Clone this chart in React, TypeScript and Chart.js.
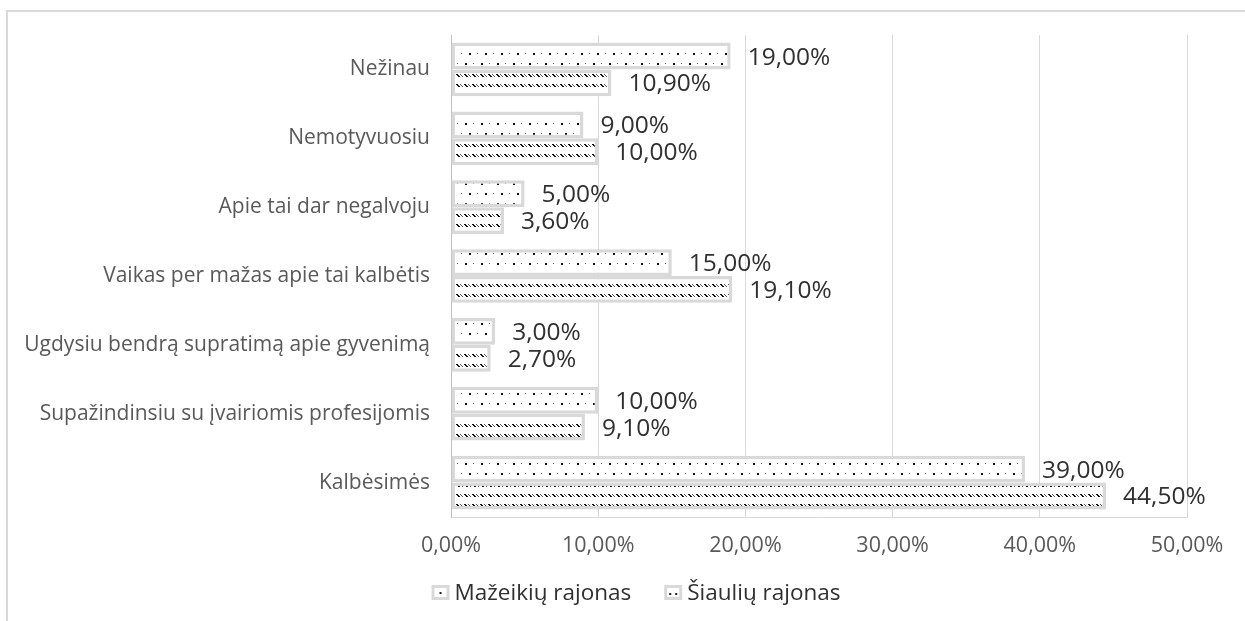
import React, { useEffect, useRef } from "react";
import { Chart, registerables } from "chart.js";
Chart.register(...registerables);

const categories = [
  "Nežinau",
  "Nemotyvuosiu",
  "Apie tai dar negalvoju",
  "Vaikas per mažas apie tai kalbėtis",
  "Ugdysiu bendrą supratimą apie gyvenimą",
  "Supažindinsiu su įvairiomis profesijomis",
  "Kalbėsimės",
];
const mazeikiai = [19.0, 9.0, 5.0, 15.0, 3.0, 10.0, 39.0];
const siauliai = [10.9, 10.0, 3.6, 19.1, 2.7, 9.1, 44.5];
const seriesNames = ["Mažeikių rajonas", "Šiaulių rajonas"];
const xMin = 0;
const xMax = 50;
const xStep = 10;

const FONT = "'Open Sans', 'DejaVu Sans', sans-serif";
const fmt = (v: number) => v.toFixed(2).replace(".", ",") + "%";

function dotPattern(ctx: CanvasRenderingContext2D) {
  const c = document.createElement("canvas");
  c.width = 16;
  c.height = 20;
  const g = c.getContext("2d")!;
  g.fillStyle = "#fff";
  g.fillRect(0, 0, 16, 20);
  g.fillStyle = "#111";
  g.fillRect(1, 3, 2, 2);
  g.fillRect(5, 13, 2, 2);
  g.fillStyle = "#666";
  g.fillRect(9, 3, 1, 1);
  g.fillRect(13, 13, 1, 1);
  return ctx.createPattern(c, "repeat")!;
}

function hatchPattern(ctx: CanvasRenderingContext2D) {
  const c = document.createElement("canvas");
  c.width = 8;
  c.height = 10;
  const g = c.getContext("2d")!;
  g.fillStyle = "#fff";
  g.fillRect(0, 0, 8, 10);
  g.fillStyle = "#111";
  g.fillRect(0, 4, 2, 1);
  g.fillRect(1, 5, 2, 1);
  g.fillRect(2, 6, 2, 1);
  g.fillStyle = "#555";
  g.fillRect(4, 4, 1, 1);
  g.fillRect(5, 5, 1, 1);
  g.fillRect(6, 6, 1, 1);
  return ctx.createPattern(c, "repeat")!;
}

const valueLabels = {
  id: "valueLabels",
  afterDatasetsDraw(chart: any) {
    const ctx = chart.ctx as CanvasRenderingContext2D;
    ctx.save();
    ctx.font = `24.5px ${FONT}`;
    ctx.fillStyle = "#303030";
    ctx.textAlign = "left";
    ctx.textBaseline = "alphabetic";
    chart.data.datasets.forEach((ds: any, di: number) => {
      const meta = chart.getDatasetMeta(di);
      meta.data.forEach((el: any, i: number) => {
        ctx.fillText(fmt(ds.data[i]), el.x + 17, el.y + 8.5);
      });
    });
    ctx.restore();
  },
};

const customLegend = {
  id: "customLegend",
  afterDraw(chart: any) {
    const ctx = chart.ctx as CanvasRenderingContext2D;
    ctx.save();
    ctx.font = `22.5px ${FONT}`;
    const boxW = 18;
    const boxH = 15;
    const gapBox = 5;
    const gapItem = 33;
    const widths = seriesNames.map((n) => ctx.measureText(n).width);
    const total =
      widths.reduce((a, w) => a + boxW + gapBox + w, 0) + gapItem * (seriesNames.length - 1);
    let x = 636 - total / 2;
    const top = 585;
    seriesNames.forEach((name, i) => {
      ctx.fillStyle = "#fff";
      ctx.fillRect(x, top, boxW, boxH);
      ctx.strokeStyle = "#d9d9d9";
      ctx.lineWidth = 3;
      ctx.strokeRect(x + 1.5, top + 1.5, boxW - 3, boxH - 3);
      ctx.fillStyle = "#222";
      if (i === 0) {
        ctx.fillRect(x + 8, top + 7, 2, 2);
      } else {
        ctx.fillRect(x + 5, top + 8, 2, 2);
        ctx.fillRect(x + 11, top + 8, 2, 2);
      }
      ctx.fillStyle = "#303030";
      ctx.textAlign = "left";
      ctx.textBaseline = "alphabetic";
      ctx.fillText(name, x + boxW + gapBox, top + 15);
      x += boxW + gapBox + widths[i] + gapItem;
    });
    ctx.restore();
  },
};

export default function App() {
  const ref = useRef<HTMLCanvasElement | null>(null);
  useEffect(() => {
    const canvas = ref.current!;
    const ctx = canvas.getContext("2d")!;
    const chart = new Chart(ctx, {
      type: "bar",
      data: {
        labels: categories,
        datasets: [
          {
            label: seriesNames[0],
            data: mazeikiai,
            backgroundColor: dotPattern(ctx),
            borderColor: "#d9d9d9",
            borderWidth: 3.5,
            borderSkipped: false,
            categoryPercentage: 0.78,
            barPercentage: 1,
          },
          {
            label: seriesNames[1],
            data: siauliai,
            backgroundColor: hatchPattern(ctx),
            borderColor: "#d9d9d9",
            borderWidth: 3.5,
            borderSkipped: false,
            categoryPercentage: 0.78,
            barPercentage: 1,
          },
        ],
      },
      options: {
        indexAxis: "y",
        animation: false,
        responsive: false,
        maintainAspectRatio: false,
        devicePixelRatio: 1,
        layout: { padding: { top: 35, right: 58, left: 0, bottom: 0 } },
        plugins: {
          legend: { display: false },
          tooltip: { enabled: false },
        },
        scales: {
          x: {
            min: xMin,
            max: xMax,
            ticks: {
              stepSize: xStep,
              callback: (v: any) => fmt(Number(v)),
              color: "#595959",
              font: { family: FONT, size: 21.5 },
              padding: 16,
              maxRotation: 0,
            },
            grid: { color: "#d9d9d9", drawTicks: false, lineWidth: 1 },
            border: { color: "#d9d9d9", width: 1 },
            afterFit: (s: any) => {
              s.height = 104;
            },
          },
          y: {
            ticks: {
              color: "#595959",
              font: { family: FONT, size: 21 },
              padding: 21,
            },
            grid: { display: false, drawTicks: false },
            border: { display: true, color: "#bfbfbf", width: 1 },
            afterFit: (s: any) => {
              s.width = 451;
            },
          },
        },
      },
      plugins: [valueLabels, customLegend],
    } as any);
    return () => chart.destroy();
  }, []);

  return (
    <div style={{ position: "fixed", left: 0, top: 0, width: 1245, height: 621, background: "#fff", overflow: "hidden" }}>
      <div
        style={{
          position: "absolute",
          left: 6,
          top: 10,
          width: 1260,
          height: 640,
          borderTop: "2px solid #d9d9d9",
          borderLeft: "2px solid #d9d9d9",
        }}
      />
      <canvas ref={ref} width={1245} height={621} style={{ position: "absolute", left: 0, top: 0, width: 1245, height: 621 }} />
    </div>
  );
}
